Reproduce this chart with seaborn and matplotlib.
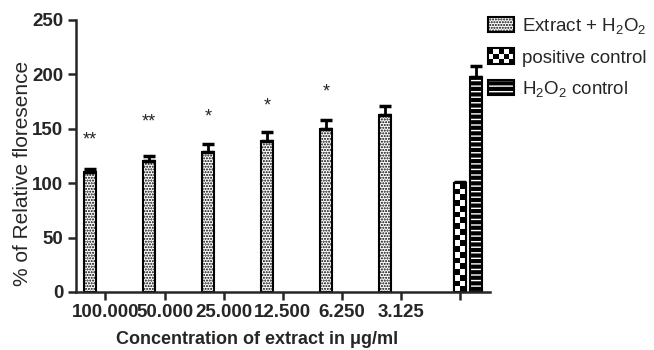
import matplotlib
matplotlib.use("Agg")
import matplotlib.pyplot as plt
import numpy as np
import pandas as pd
import seaborn as sns
from matplotlib.patches import Patch, Rectangle
from matplotlib.legend_handler import HandlerBase

# Values
concentrations = ["100.000", "50.000", "25.000", "12.500", "6.250", "3.125"]
extract_mean = [110, 120, 129, 139, 150, 163]
extract_err = [3, 5, 7, 8, 8, 8]
positive_mean = [100]
positive_err = [1]
h2o2_mean = [198]
h2o2_err = [10]
star_labels = ["**", "**", "*", "*", "*"]
star_y = [140, 156, 161, 171, 184]

groups = concentrations + ["control"]
tick_labels = concentrations + [""]
series_names = ["Extract + H$_2$O$_2$", "positive control", "H$_2$O$_2$ control"]

# Build the long table for seaborn
rows = []
for c, v in zip(concentrations, extract_mean):
    rows.append({"group": c, "series": series_names[0], "value": v})
rows.append({"group": "control", "series": series_names[1], "value": positive_mean[0]})
rows.append({"group": "control", "series": series_names[2], "value": h2o2_mean[0]})
df = pd.DataFrame(rows)
errors = [extract_err, positive_err, h2o2_err]


class CheckerHandler(HandlerBase):
    """Legend key drawn as a black/white checkerboard."""

    def create_artists(self, legend, orig_handle, xdescent, ydescent,
                       width, height, fontsize, trans):
        ncol, nrow = 5, 3
        cw, ch = width / ncol, height / nrow
        arts = []
        for r in range(nrow):
            for c in range(ncol):
                if (r + c) % 2 == 0:
                    arts.append(Rectangle((-xdescent + c * cw, -ydescent + r * ch), cw, ch,
                                          facecolor="black", lw=0, transform=trans))
        arts.append(Rectangle((-xdescent, -ydescent), width, height, fill=False,
                              ec="black", lw=1.5, transform=trans))
        return arts


sns.set_style("ticks")
plt.rcParams["font.family"] = ["Liberation Sans", "DejaVu Sans"]
plt.rcParams["mathtext.default"] = "regular"
plt.rcParams["hatch.linewidth"] = 1.0

fig = plt.figure(figsize=(6.54, 3.5), dpi=100)
ax = fig.add_axes([0.116, 0.166, 0.633, 0.777])

sns.barplot(
    data=df, x="group", y="value", hue="series",
    order=groups, hue_order=series_names,
    width=0.8, gap=0.25, dodge=True, errorbar=None,
    palette=["white", "white", "black"],
    edgecolor="black", linewidth=1.5, legend=False, ax=ax,
)

ax.set_xlim(-0.5, 6.5)
ax.set_ylim(0, 250)

bar_containers = list(ax.containers)
for i, container in enumerate(bar_containers):
    for p, err in zip(container.patches, errors[i]):
        x0, w, h = p.get_x(), p.get_width(), p.get_height()
        if i == 0:
            p.set_hatch("......")
        elif i == 1:
            # checkerboard fill, clipped to the bar
            px_h = ax.transData.transform((0, h))[1] - ax.transData.transform((0, 0))[1]
            nrow = max(int(round(px_h / 5.6)), 1)
            board = np.indices((nrow, 2)).sum(axis=0) % 2
            im = ax.imshow(board, cmap="gray_r", extent=(x0, x0 + w, 0, h), aspect="auto",
                           interpolation="nearest", origin="lower", zorder=p.get_zorder() + 0.05)
            im.set_clip_path(p)
            ax.add_patch(Rectangle((x0, 0), w, h, fill=False, ec="black", lw=1.5,
                                   zorder=p.get_zorder() + 0.1))
        else:
            # white stripes on black, keep a black outline
            p.set_hatch("---")
            p.set_edgecolor("white")
            ax.add_patch(Rectangle((x0, 0), w, h, fill=False, ec="black", lw=1.5,
                                   zorder=p.get_zorder() + 0.1))
        ax.errorbar(x0 + w / 2, h, yerr=[[0], [err]], fmt="none",
                    ecolor="black", elinewidth=2, capsize=4, capthick=2.5, zorder=1)

# significance stars above the extract bars
for p, s, y in zip(bar_containers[0].patches, star_labels, star_y):
    ax.text(p.get_x() + p.get_width() / 2, y, s, ha="center", va="center", fontsize=13)

ax.set_xlim(-0.5, 6.5)
ax.set_ylim(0, 250)
ax.set_yticks([0, 50, 100, 150, 200, 250])
ax.set_xticks(range(len(groups)))
ax.set_xticklabels(tick_labels)
ax.tick_params(direction="out", length=6, width=1.8, labelsize=13.5, pad=3)
for lbl in ax.get_xticklabels() + ax.get_yticklabels():
    lbl.set_fontweight("bold")
for side in ["left", "bottom"]:
    ax.spines[side].set_linewidth(1.8)
sns.despine(ax=ax)

ax.set_xlabel("Concentration of extract in \u03bcg/ml", fontsize=13, fontweight="bold")
ax.xaxis.set_label_coords(0.437, -0.145)
ax.set_ylabel("% of Relative floresence", fontsize=15)
ax.yaxis.set_label_coords(-0.106, 0.434)

handles = [
    Patch(facecolor="white", edgecolor="black", hatch="......", lw=1.5),
    "checker",
    (Patch(facecolor="black", edgecolor="white", hatch="---", lw=0),
     Patch(fill=False, edgecolor="black", lw=1.5)),
]
fig.legend(handles, series_names, loc="upper left", bbox_to_anchor=(0.729, 0.986),
           frameon=False, fontsize=13.5, handlelength=1.4, handleheight=0.9,
           handletextpad=0.4, labelspacing=0.65, borderaxespad=0.2,
           handler_map={str: CheckerHandler()})

fig.savefig("out.png", dpi=100)
